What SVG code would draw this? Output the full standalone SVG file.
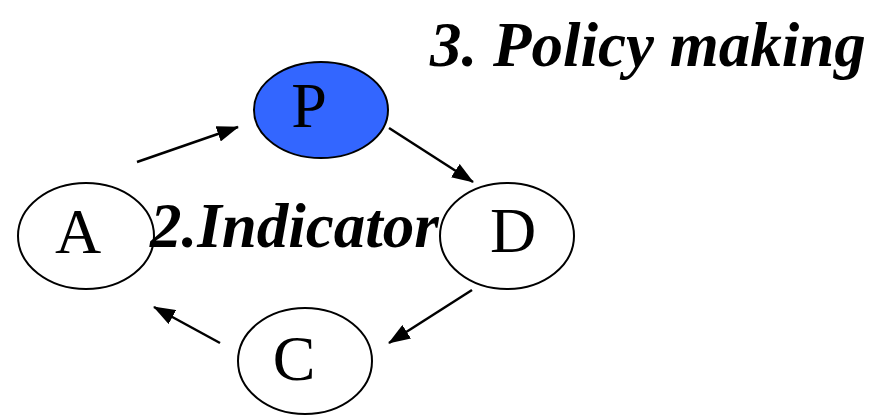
<svg xmlns="http://www.w3.org/2000/svg" width="879" height="415" viewBox="0 0 879 415">
<style>
.node{fill:#fff;stroke:#000;stroke-width:2}
.lbl{font-family:"Liberation Serif","Times New Roman",serif;font-size:64px;fill:#000;text-anchor:middle}
.title{font-family:"Liberation Serif","Times New Roman",serif;font-size:63px;font-weight:bold;font-style:italic;fill:#000}
.edge{stroke:#000;stroke-width:2.5;fill:none;marker-end:url(#arr)}
</style>
<defs>
<marker id="arr" markerUnits="userSpaceOnUse" markerWidth="22" markerHeight="16" refX="21" refY="8" orient="auto">
<path d="M0,0 L22,8 L0,16 Z" fill="#000"/>
</marker>
</defs>
<rect width="879" height="415" fill="#fff"/>
<g id="connectors">
<line class="edge" x1="137" y1="162" x2="238" y2="127"/>
<line class="edge" x1="389" y1="128" x2="473" y2="182"/>
<line class="edge" x1="472" y1="290" x2="389" y2="343"/>
<line class="edge" x1="220" y1="343" x2="154" y2="307"/>
</g>
<g id="node-P">
<ellipse class="node" cx="321" cy="110" rx="67" ry="48" style="fill:#3366ff"/>
<text class="lbl" x="309" y="127">P</text>
</g>
<g id="node-A">
<ellipse class="node" cx="86" cy="236" rx="68" ry="53"/>
<text class="lbl" x="78" y="253">A</text>
</g>
<g id="node-D">
<ellipse class="node" cx="507" cy="236" rx="67" ry="53"/>
<text class="lbl" x="513" y="252">D</text>
</g>
<g id="node-C">
<ellipse class="node" cx="305" cy="361" rx="67" ry="53"/>
<text class="lbl" x="294" y="380">C</text>
</g>
<text class="title" x="150" y="247">2.Indicator</text>
<text class="title" x="430" y="66">3. Policy making</text>
</svg>
